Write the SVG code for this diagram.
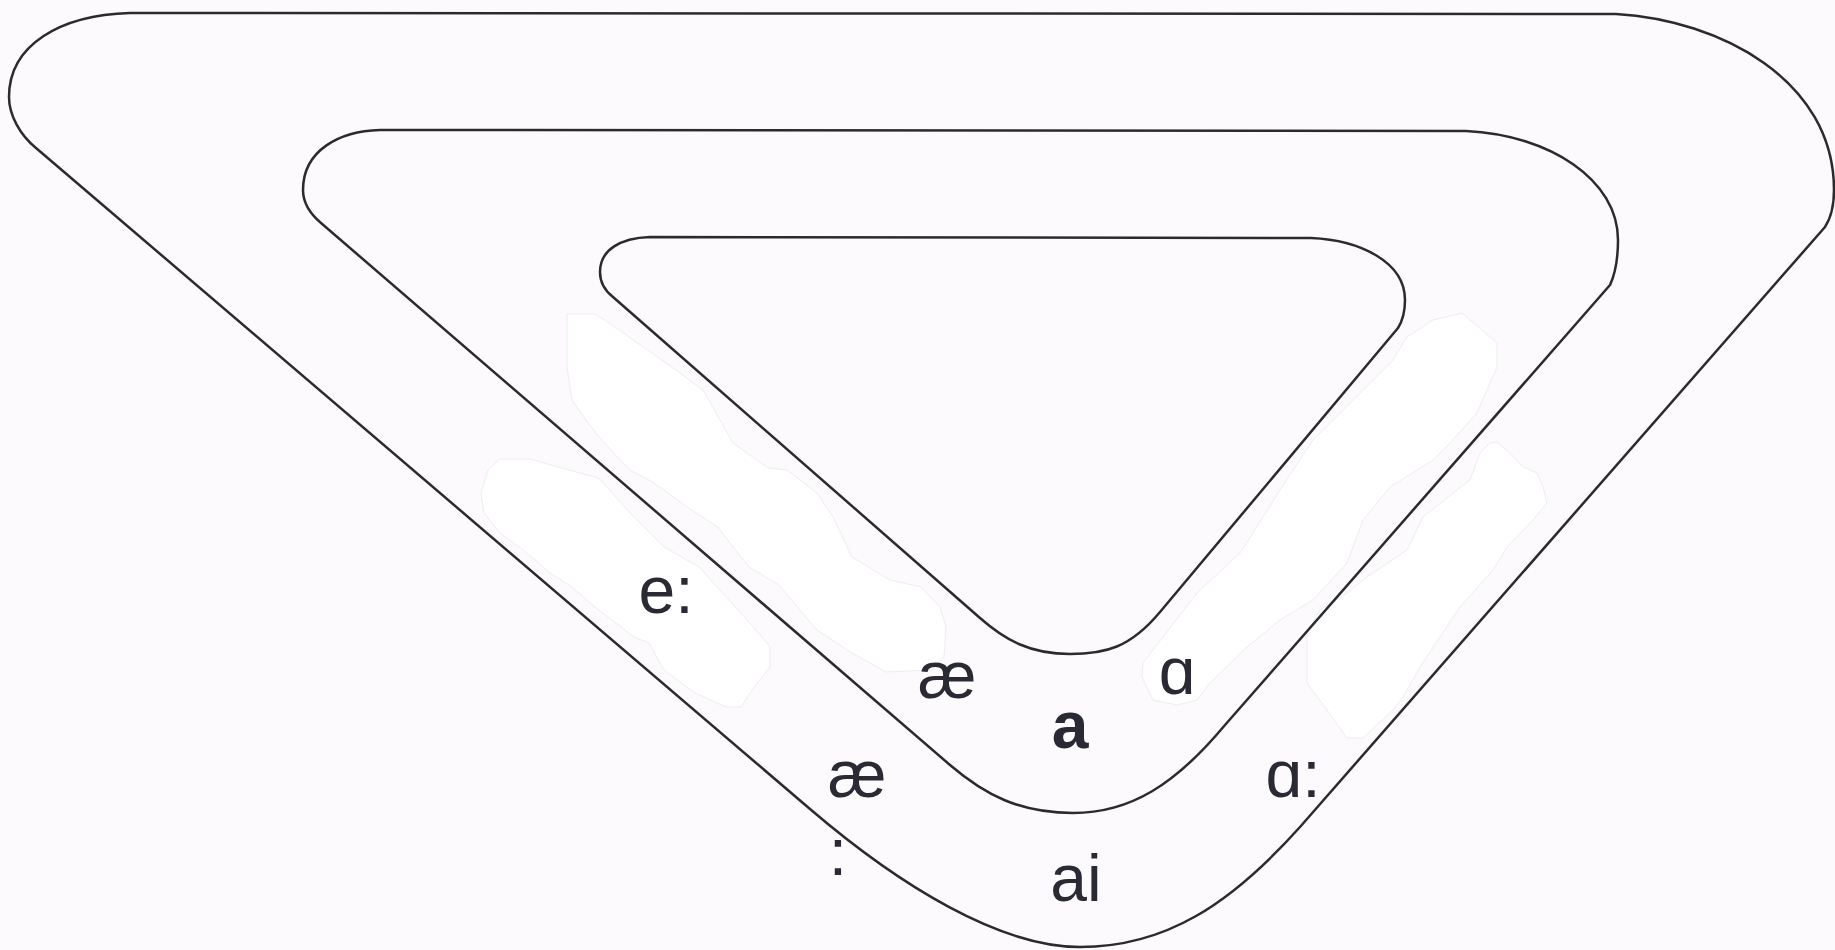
<svg xmlns="http://www.w3.org/2000/svg" width="1835" height="950" viewBox="0 0 1835 950">
<style>
.band{fill:none;stroke:#2b2b2e;stroke-width:2.5;stroke-linejoin:round}
.blob{fill:#ffffff;stroke:#e9e7ea;stroke-width:0.8;stroke-linejoin:round}
.lbl{font-family:"Liberation Sans",Arial,sans-serif;font-size:66px;fill:#2a2a35;text-anchor:middle}
.bold{font-weight:bold}
</style>
<rect x="0" y="0" width="1835" height="950" fill="#fdfafd"/>
<g id="blobs">
<polygon id="blob1" class="blob" points="567,314 595,314 615,327 680,373 703,390 733,443 768,468 787,470 817,493 833,517 852,557 890,580 921,587 940,607 946,627 944,657 932,670 886,672 852,653 817,630 794,603 779,585 749,567 733,547 718,527 687,507 664,490 649,480 630,470 611,450 599,437 584,417 572,400 567,367"/>
<polygon id="blob2" class="blob" points="500,459 530,459 576,472 599,478 630,513 664,547 699,567 729,600 756,630 770,647 770,667 752,690 741,707 726,707 695,693 664,670 649,643 634,637 595,607 572,587 550,573 527,553 500,533 484,513 481,493 488,470"/>
<polygon id="blob3" class="blob" points="1462,313 1497,343 1497,367 1477,413 1450,443 1433,460 1390,487 1363,520 1347,563 1313,600 1280,620 1247,647 1210,683 1197,700 1177,705 1153,700 1142,677 1143,663 1163,637 1197,593 1240,553 1253,533 1280,490 1313,440 1363,390 1393,360 1407,337 1433,320"/>
<polygon id="blob4" class="blob" points="1497,442 1490,443 1480,453 1470,480 1423,517 1407,550 1367,577 1347,593 1320,610 1307,633 1307,683 1327,710 1347,738 1363,738 1393,710 1403,697 1420,667 1460,607 1493,570 1507,547 1533,520 1547,503 1543,487 1537,473 1523,467 1510,453"/>
</g>
<g id="bands">
<path id="outer" class="band" d="M130,13 L1616,14 C1720,20 1834,80 1834,190 C1834,205 1831,218 1825,227 L1300,827 C1230,905 1165,947 1080,947 C1000,947 900,886 810,809 L36,148 C20,135 9,115 9,97 C9,45 60,15 130,13 Z"/>
<path id="middle" class="band" d="M380,130 L1466,131 C1550,135 1618,180 1618,240 C1618,258 1616,272 1610,285 L1225,725 C1175,785 1130,813 1073,813 C1020,813 985,795 950,765 L321,223 C308,212 303,202 303,190 C303,150 340,131 380,130 Z"/>
<path id="inner" class="band" d="M650,237 L1311,238 C1360,240 1405,262 1405,300 C1405,310 1403,320 1398,328 L1160,612 C1130,648 1105,654 1070,654 C1030,654 1005,640 980,618 L613,297 C604,290 600,282 600,272 C600,250 620,238 650,237 Z"/>
</g>
<g id="labels">
<text id="t-e-long" class="lbl" x="666" y="613">e:</text>
<text id="t-ae-short" class="lbl" x="947" y="698">æ</text>
<text id="t-ae-long" class="lbl" x="857" y="797">æ</text>
<text id="t-colon" class="lbl" x="838" y="875">:</text>
<text id="t-a" class="lbl bold" x="1070" y="748">a</text>
<text id="t-alpha" class="lbl" x="1177" y="694">ɑ</text>
<text id="t-alpha-long" class="lbl" x="1293" y="797">ɑ:</text>
<text id="t-ai" class="lbl" x="1076" y="901">ai</text>
</g>
</svg>
